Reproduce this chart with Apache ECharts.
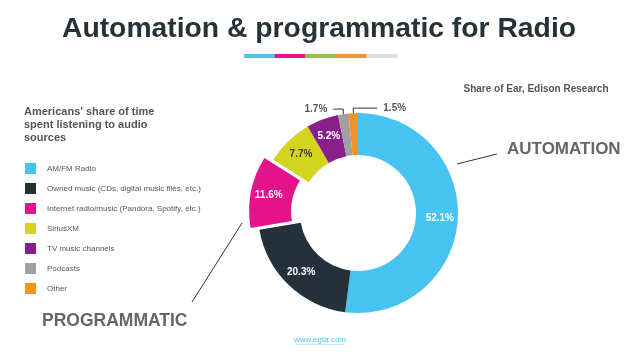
<!DOCTYPE html>
<html>
<head>
<meta charset="utf-8">
<script src="https://cdn.jsdelivr.net/npm/echarts@6/dist/echarts.min.js"></script>
<style>
html,body{margin:0;padding:0;background:#fff;}
#chart{width:638px;height:359px;}
</style>
</head>
<body>
<div id="chart"></div>
<script>
var categories = ['AM/FM Radio', 'Owned music (CDs, digital music files, etc.)', 'Internet radio/music (Pandora, Spotify, etc.)', 'SiriusXM', 'TV music channels', 'Podcasts', 'Other'];
var shares = [52.1, 20.3, 11.6, 7.7, 5.2, 1.7, 1.5];
var palette = ['#46c3f0', '#24313b', '#e5138b', '#d2d41f', '#8a1f8c', '#a0a0a0', '#f5921e'];
var barColors = ['#4fc3ee', '#e0158a', '#8fc14a', '#f5962a', '#dcdcdc'];
var titleText = 'Automation & programmatic for Radio';
var legendHeading = "Americans' share of time\nspent listening to audio\nsources";
var sourceText = 'Share of Ear, Edison Research';

var FONT = '"Liberation Sans", Arial, Helvetica, sans-serif';
var chart = echarts.init(document.getElementById('chart'), null, {renderer: 'canvas'});

var data = categories.map(function (c, i) {
  var item = {name: c, value: shares[i], itemStyle: {color: palette[i], borderWidth: 0}};
  if (i === 2) item.selected = true;
  if (i >= 5) {
    item.label = {position: 'outside', color: '#555', fontSize: 10, fontWeight: 'bold'};
    item.labelLine = {show: true, lineStyle: {color: '#333', width: 1}};
  } else {
    item.label = {position: 'inside', color: i === 3 ? '#3a3a2a' : '#ffffff'};
    item.labelLine = {show: false};
  }
  return item;
});

var graphics = [];
barColors.forEach(function (c, i) {
  graphics.push({type: 'rect', left: 244 + i * 30.6, top: 54, shape: {width: 30.8, height: 4}, style: {fill: c}, silent: true});
});
function txt(x, y, s, font, fill, align) {
  return {type: 'text', x: x, y: y, silent: true,
    style: {text: s, font: font, fill: fill, textAlign: align, textVerticalAlign: 'middle', align: align, verticalAlign: 'middle'}};
}
graphics.push(txt(536, 89, sourceText, 'bold 10px ' + FONT, '#555', 'center'));
graphics.push(txt(507, 149, 'AUTOMATION', 'bold 17px ' + FONT, '#666', 'left'));
graphics.push(txt(42, 321, 'PROGRAMMATIC', 'bold 17.5px ' + FONT, '#666', 'left'));
graphics.push({type: 'line', silent: true, shape: {x1: 457, y1: 164, x2: 497, y2: 154}, style: {stroke: '#333', lineWidth: 1}});
graphics.push({type: 'line', silent: true, shape: {x1: 192, y1: 302, x2: 242, y2: 223}, style: {stroke: '#333', lineWidth: 1}});
graphics.push(txt(320, 340, 'www.egta.com', '8px ' + FONT, '#4fc3ee', 'center'));
graphics.push({type: 'line', silent: true, shape: {x1: 296, y1: 344.5, x2: 344, y2: 344.5}, style: {stroke: '#9fdcf4', lineWidth: 0.6}});

var option = {
  animation: false,
  backgroundColor: '#ffffff',
  title: [
    {text: titleText, left: 319, top: 15, textAlign: 'center', padding: 0,
      textStyle: {fontFamily: FONT, fontSize: 28.3, fontWeight: 'bold', color: '#263238'}},
    {text: legendHeading, left: 24, top: 105, padding: 0,
      textStyle: {fontFamily: FONT, fontSize: 11, fontWeight: 'bold', color: '#555', lineHeight: 13}}
  ],
  legend: {
    orient: 'vertical', left: 25, top: 163, padding: 0,
    itemWidth: 11, itemHeight: 11, itemGap: 9, icon: 'rect',
    selectedMode: false,
    data: categories,
    itemStyle: {borderWidth: 0},
    textStyle: {fontFamily: FONT, fontSize: 8, color: '#555', padding: [0, 0, 0, 6]}
  },
  graphic: graphics,
  series: [{
    type: 'pie',
    center: [358, 213],
    radius: [58, 100],
    startAngle: 90,
    clockwise: true,
    padAngle: 0,
    selectedMode: 'multiple',
    selectedOffset: 9,
    avoidLabelOverlap: false,
    emphasis: {disabled: true},
    itemStyle: {borderWidth: 0, borderColor: 'transparent'},
    label: {
      show: true,
      fontFamily: FONT, fontSize: 10, fontWeight: 'bold',
      formatter: function (p) { return p.value + '%'; }
    },
    labelLine: {length: 10, length2: 10},
    labelLayout: function (p) {
      if (p.dataIndex < 5) return {};
      var pts = p.labelLinePoints;
      if (!pts || !pts.length) return {};
      var x0 = pts[0][0], y0 = pts[0][1];
      var yl = y0 - 5;
      if (p.dataIndex === 5) {
        return {x: x0 - 16, y: yl, align: 'right', verticalAlign: 'middle',
          labelLinePoints: [[x0, y0 + 18], [x0, yl], [x0 - 10, yl]]};
      }
      return {x: x0 + 30, y: yl, align: 'left', verticalAlign: 'middle',
        labelLinePoints: [[x0, y0 + 18], [x0, yl], [x0 + 24, yl]]};
    },
    data: data
  }]
};
chart.setOption(option);
</script>
</body>
</html>
